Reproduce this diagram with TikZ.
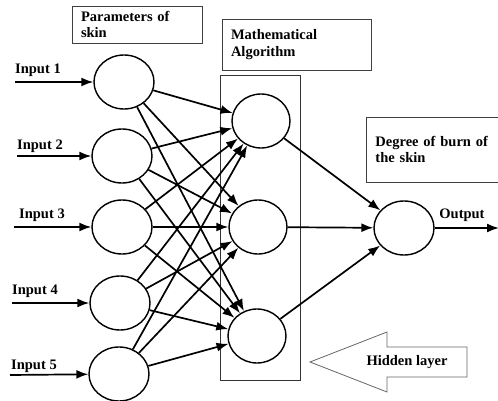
\documentclass[tikz,border=0pt]{standalone}
\usepackage{fontspec}
\setmainfont{Liberation Serif}
\usetikzlibrary{shapes.geometric,arrows.meta}
\newcommand{\diagfont}{\fontsize{14.5}{16.5}\selectfont\bfseries}
\tikzset{
  neuron/.style = {draw, ellipse, line width=1.4pt, minimum width=60pt, minimum height=54pt, inner sep=0pt},
  link/.style = {line width=1.7pt, -{Latex[length=12pt,width=9pt]}},
  infobox/.style = {draw=black!75, line width=0.9pt, align=left, inner xsep=9pt, font=\diagfont},
  lbl/.style = {font=\diagfont}
}
\begin{document}
\begin{tikzpicture}[x=1pt, y=-1pt]
\useasboundingbox (0,0) rectangle (498,401);
% neurons
\node[neuron] (in1) at (124,82) {};
\node[neuron] (in2) at (122,156) {};
\node[neuron] (in3) at (122,227) {};
\node[neuron] (in4) at (120,303) {};
\node[neuron] (in5) at (119,374) {};
\node[neuron, minimum width=58pt] (hid1) at (261,121) {};
\node[neuron, minimum width=58pt] (hid2) at (258,227) {};
\node[neuron, minimum width=58pt] (hid3) at (257,336) {};
\node[neuron] (out) at (404,228) {};
% hidden layer frame
\node[draw=black!80, line width=0.9pt, minimum width=80pt, minimum height=305pt, inner sep=0pt] (frame) at (260.5,227.5) {};
% inputs
\foreach \i/\x/\y/\ly/\lx in {1/15/82/70/38, 2/17/156/146/40, 3/14/227/215/42, 4/12/303/291/35, 5/10/375/366/34}
{
\coordinate (src\i) at (\x,\y);
\node[lbl] (lab\i) at (\lx,\ly) {Input \i};
\draw[link] (src\i) -- (in\i);
}
\foreach \i in {1,...,5}
{
	\foreach \h in {1,2,3}
	{
		\draw[link] (in\i) -- (hid\h);
	}
}
\foreach \h in {1,2,3}
	\draw[link] (hid\h) -- (out);
% output
\coordinate (sink) at (499,228);
\draw[link] (out) -- (sink);
\node[lbl] (outlab) at (462,215) {Output};
% text boxes
\node[infobox, text width=112pt, minimum height=37pt] (params) at (137,24.5) {Parameters of\\skin};
\node[infobox, text width=131pt, minimum height=51pt] (algo) at (296.5,44.5) {Mathematical\\Algorithm};
\node[infobox, text width=140pt, minimum height=65pt, anchor=west] (burn) at (366,149.5) {Degree of burn of\\the skin};
% hidden layer arrow
\draw[draw=black!60, line width=0.8pt] (310,362) -- (387,332) -- (387,347) -- (467,347) -- (467,377) -- (387,377) -- (387,392) -- cycle;
\node[lbl] (hidlab) at (407,362) {Hidden layer};
\end{tikzpicture}
\end{document}
